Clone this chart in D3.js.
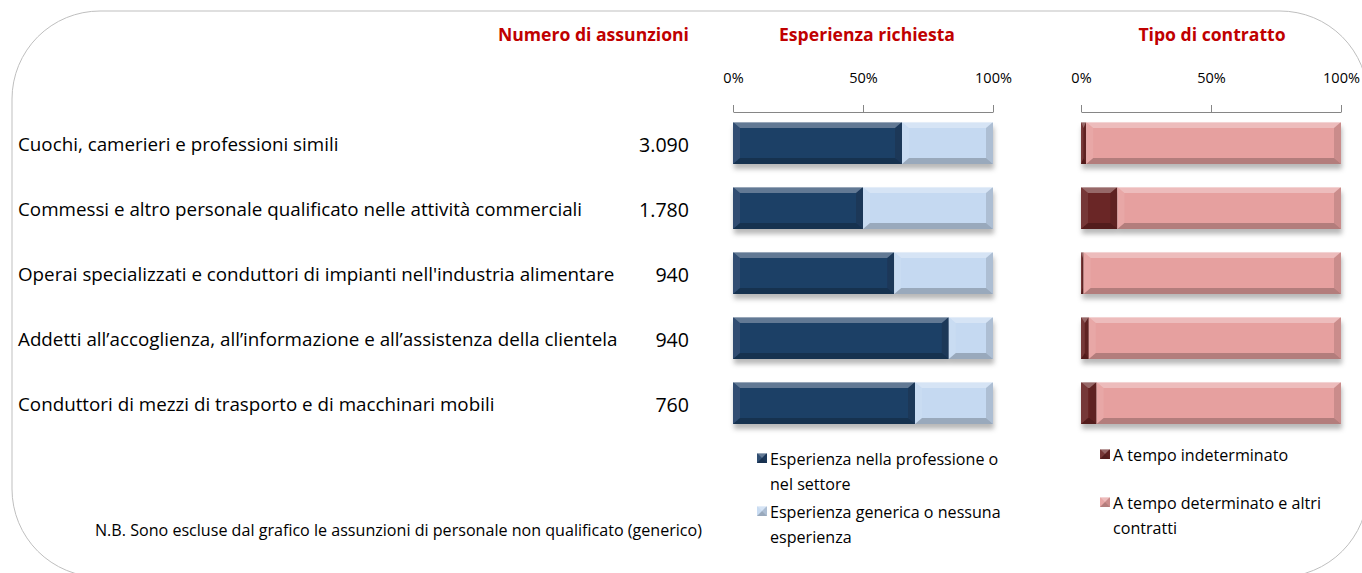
<!DOCTYPE html>
<html><head><meta charset="utf-8">
<script src="https://cdn.jsdelivr.net/npm/d3@7"></script>
<style>
html,body{margin:0;padding:0;background:#fff;}
svg{display:block;font-family:"Open Sans", "Liberation Sans", sans-serif;}
</style></head>
<body><svg id="c" width="1362" height="573"></svg>
<script>
const categories = [
  "Cuochi, camerieri e professioni simili",
  "Commessi e altro personale qualificato nelle attività commerciali",
  "Operai specializzati e conduttori di impianti nell'industria alimentare",
  "Addetti all’accoglienza, all’informazione e all’assistenza della clientela",
  "Conduttori di mezzi di trasporto e di macchinari mobili"
];
const assunzioni = [3090, 1780, 940, 940, 760];
const espSettore = [0.65, 0.50, 0.62, 0.83, 0.70];
const espGenerica = [0.35, 0.50, 0.38, 0.17, 0.30];
const tempoIndet = [0.02, 0.14, 0.01, 0.03, 0.06];
const tempoDet = [0.98, 0.86, 0.99, 0.97, 0.94];
const tickValues = [0, 0.5, 1];
const panelTitles = ["Numero di assunzioni", "Esperienza richiesta", "Tipo di contratto"];
const legendExp = [["Esperienza nella professione o", "nel settore"], ["Esperienza generica o nessuna", "esperienza"]];
const legendCon = [["A tempo indeterminato"], ["A tempo determinato e altri", "contratti"]];
const note = "N.B. Sono escluse dal grafico le assunzioni di personale non qualificato (generico)";

const svg = d3.select("#c");
const defs = svg.append("defs");
const f = defs.append("filter").attr("id","sh").attr("x","-10%").attr("y","-30%").attr("width","120%").attr("height","180%");
f.append("feDropShadow").attr("dx",1).attr("dy",5).attr("stdDeviation",2.5).attr("flood-color","#000").attr("flood-opacity",0.28);

const colDark = "#1f3f66", colLight = "#c5d9f1", colRed = "#6b2626", colPink = "#e6a09f";

// frame
svg.append("rect").attr("x",12).attr("y",11).attr("width",1356).attr("height",566)
  .attr("rx",88).attr("ry",88).attr("fill","none").attr("stroke","#bfbfbf").attr("stroke-width",1);

const y = d3.scalePoint().domain(categories).range([143, 403]);
const barH = 42;
const xE = d3.scaleLinear().domain([0,1]).range([733, 993]);
const xC = d3.scaleLinear().domain([0,1]).range([1081, 1341]);
const fmt = d3.formatLocale({decimal:",", thousands:".", grouping:[3], currency:["€",""]}).format(",d");

// titles
const red = "#c00000";
[[689,"end"],[(xE(0)+xE(1))/2 + 4,"middle"],[(xC(0)+xC(1))/2 + 1,"middle"]].forEach(([x,anc],i)=>{
  svg.append("text").attr("x",x).attr("y",41).attr("text-anchor",anc).attr("fill",red)
    .attr("font-weight","bold").attr("font-size",17.6).text(panelTitles[i]);
});

// axes
function drawAxis(x){
  const g = svg.append("g").attr("transform","translate(0,112)")
    .call(d3.axisTop(x).tickValues(tickValues).tickFormat(d3.format(".0%")).tickSize(7).tickSizeOuter(0).tickPadding(22));
  g.select(".domain").attr("stroke","#868686");
  g.selectAll(".tick line").attr("stroke","#868686");
  g.selectAll(".tick text").attr("fill","#000").attr("font-size",14.5).attr("font-family","'Open Sans', sans-serif");
}
drawAxis(xE); drawAxis(xC);

// labels
svg.append("g").selectAll("text").data(categories).join("text")
  .attr("x",18).attr("y",d=>y(d)+8).attr("font-size",18.8).attr("fill","#000").text(d=>d);
svg.append("g").selectAll("text").data(assunzioni).join("text")
  .attr("x",689).attr("y",(d,i)=>y(categories[i])+9).attr("text-anchor","end").attr("font-size",19.6).attr("fill","#000").text(d=>fmt(d));

// bevelled segment
function seg(g, x0, x1, yy, h, col){
  const w = x1 - x0;
  if (w <= 0) return;
  const b = Math.min(7, w/2), bt = Math.min(6, h/2);
  g.append("rect").attr("x",x0).attr("y",yy).attr("width",w).attr("height",h).attr("fill",col);
  const polys = [
    [[[x0,yy],[x1,yy],[x1-b,yy+bt],[x0+b,yy+bt]], "#fff", 0.3],
    [[[x0,yy+h],[x1,yy+h],[x1-b,yy+h-bt],[x0+b,yy+h-bt]], "#000", 0.22],
    [[[x0,yy],[x0+b,yy+bt],[x0+b,yy+h-bt],[x0,yy+h]], "#fff", 0.08],
    [[[x1,yy],[x1-b,yy+bt],[x1-b,yy+h-bt],[x1,yy+h]], "#000", 0.12]
  ];
  polys.forEach(([p,c,o])=>g.append("polygon").attr("points",p.map(q=>q.join(",")).join(" ")).attr("fill",c).attr("fill-opacity",o));
  g.append("line").attr("x1",x0).attr("x2",x1).attr("y1",yy+0.5).attr("y2",yy+0.5).attr("stroke","#fff").attr("stroke-opacity",0.35);
}
function bars(x, a, b, ca, cb){
  const g = svg.append("g").attr("filter","url(#sh)");
  categories.forEach((c,i)=>{
    const yy = y(c) - barH/2;
    seg(g, x(0), x(a[i]), yy, barH, ca);
    seg(g, x(a[i]), x(a[i]+b[i]), yy, barH, cb);
  });
}
bars(xE, espSettore, espGenerica, colDark, colLight);
bars(xC, tempoIndet, tempoDet, colRed, colPink);

// legends
function legend(items, colors, x0, ys, lineH){
  items.forEach((lines,i)=>{
    const g = svg.append("g");
    seg(g, x0, x0+10, ys[i]-12, 10, colors[i]);
    lines.forEach((t,j)=>svg.append("text").attr("x",x0+13).attr("y",ys[i]+j*lineH).attr("font-size",16.1).attr("fill","#000").text(t));
  });
}
legend(legendExp, [colDark, colLight], 757, [465, 518], 25);
legend(legendCon, [colRed, colPink], 1100, [461, 509], 25);

svg.append("text").attr("x",95).attr("y",536).attr("font-size",16.1).attr("fill","#000").text(note);
</script></body></html>
